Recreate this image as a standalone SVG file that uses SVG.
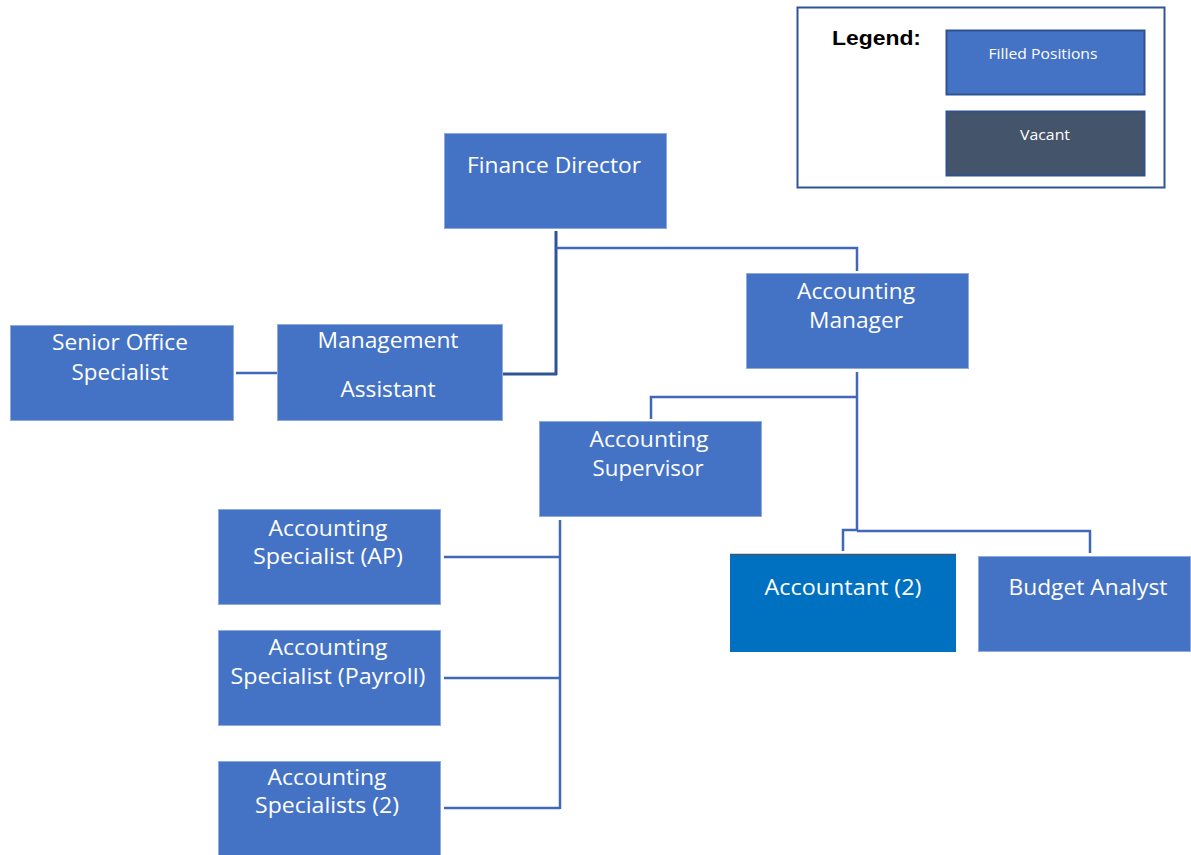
<svg xmlns="http://www.w3.org/2000/svg" width="1191" height="855" viewBox="0 0 1191 855">
  <style>
    .box { fill: #4472C4; stroke: #8FAADC; stroke-width: 1; }
    .lbl { font-family: "Open Sans", "Noto Sans", sans-serif; font-size: 22px; fill: #FFFFFF; text-anchor: middle; }
    .small { font-family: "Open Sans", "Noto Sans", sans-serif; font-size: 15px; fill: #FFFFFF; text-anchor: middle; }
    .link { fill: none; stroke: #4168B8; stroke-width: 2.5; }
    .link-dark { fill: none; stroke: #2F5597; stroke-width: 3; }
  </style>
  <rect width="1191" height="855" fill="#FFFFFF"/>

  <!-- legend -->
  <g id="legend">
    <rect x="797.5" y="7.5" width="367" height="180" fill="#FFFFFF" stroke="#2F5597" stroke-width="2"/>
    <text x="832" y="45" font-family="Liberation Sans, Arial, sans-serif" font-size="20" font-weight="bold" fill="#000000" textLength="89" lengthAdjust="spacingAndGlyphs">Legend:</text>
    <rect x="946.5" y="30.5" width="198" height="64" fill="#4472C4" stroke="#2F528F" stroke-width="2"/>
    <text class="small" x="1043" y="59" textLength="109" lengthAdjust="spacingAndGlyphs">Filled Positions</text>
    <rect x="946.5" y="111.5" width="198" height="64" fill="#44546A" stroke="#2F528F" stroke-width="2"/>
    <text class="small" x="1045" y="140" textLength="50" lengthAdjust="spacingAndGlyphs">Vacant</text>
  </g>

  <!-- connectors -->
  <g id="connectors">
    <path class="link-dark" d="M556 231 V375 M503 374 H557"/>
    <path class="link" d="M556 248 H857 V271"/>
    <path class="link" d="M236 373 H277"/>
    <path class="link" d="M857 372 V531 M651 419 V397 H857 M843 551 V530 H857 M857 531 H1090 V553"/>
    <path class="link" d="M560 520 V809 M444 557 H560 M444 678 H560 M444 808 H560"/>
  </g>

  <g id="finance-director">
    <rect class="box" x="444.5" y="133.5" width="222" height="95"/>
    <text class="lbl" x="554" y="173" textLength="174" lengthAdjust="spacingAndGlyphs">Finance Director</text>
  </g>

  <g id="accounting-manager">
    <rect class="box" x="746.5" y="273.5" width="222" height="95"/>
    <text class="lbl" x="856" y="299" textLength="118" lengthAdjust="spacingAndGlyphs">Accounting</text>
    <text class="lbl" x="856" y="328" textLength="94" lengthAdjust="spacingAndGlyphs">Manager</text>
  </g>

  <g id="senior-office-specialist">
    <rect class="box" x="10.5" y="325.5" width="223" height="95"/>
    <text class="lbl" x="120" y="350" textLength="136" lengthAdjust="spacingAndGlyphs">Senior Office</text>
    <text class="lbl" x="120" y="380" textLength="97" lengthAdjust="spacingAndGlyphs">Specialist</text>
  </g>

  <g id="management-assistant">
    <rect class="box" x="277.5" y="324.5" width="225" height="96"/>
    <text class="lbl" x="388" y="348" textLength="141" lengthAdjust="spacingAndGlyphs">Management</text>
    <text class="lbl" x="388" y="397" textLength="95" lengthAdjust="spacingAndGlyphs">Assistant</text>
  </g>

  <g id="accounting-supervisor">
    <rect class="box" x="539.5" y="421.5" width="222" height="95"/>
    <text class="lbl" x="649" y="447" textLength="119" lengthAdjust="spacingAndGlyphs">Accounting</text>
    <text class="lbl" x="648" y="476" textLength="111" lengthAdjust="spacingAndGlyphs">Supervisor</text>
  </g>

  <g id="accountant">
    <rect x="730" y="554" width="226" height="98" fill="#0070C0"/>
    <line x1="730" y1="554.5" x2="956" y2="554.5" stroke="#44546A" stroke-width="1.5"/>
    <text class="lbl" x="843" y="595" textLength="157" lengthAdjust="spacingAndGlyphs">Accountant (2)</text>
  </g>

  <g id="budget-analyst">
    <rect class="box" x="978.5" y="556.5" width="212" height="95"/>
    <text class="lbl" x="1088" y="595" textLength="159" lengthAdjust="spacingAndGlyphs">Budget Analyst</text>
  </g>

  <g id="accounting-specialist-ap">
    <rect class="box" x="218.5" y="509.5" width="222" height="95"/>
    <text class="lbl" x="328" y="536" textLength="119" lengthAdjust="spacingAndGlyphs">Accounting</text>
    <text class="lbl" x="328" y="564" textLength="150" lengthAdjust="spacingAndGlyphs">Specialist (AP)</text>
  </g>

  <g id="accounting-specialist-payroll">
    <rect class="box" x="218.5" y="630.5" width="222" height="95"/>
    <text class="lbl" x="328" y="655" textLength="119" lengthAdjust="spacingAndGlyphs">Accounting</text>
    <text class="lbl" x="328" y="684" textLength="195" lengthAdjust="spacingAndGlyphs">Specialist (Payroll)</text>
  </g>

  <g id="accounting-specialists-2">
    <rect class="box" x="218.5" y="761.5" width="222" height="95"/>
    <text class="lbl" x="327" y="785" textLength="119" lengthAdjust="spacingAndGlyphs">Accounting</text>
    <text class="lbl" x="327" y="813" textLength="144" lengthAdjust="spacingAndGlyphs">Specialists (2)</text>
  </g>
</svg>
